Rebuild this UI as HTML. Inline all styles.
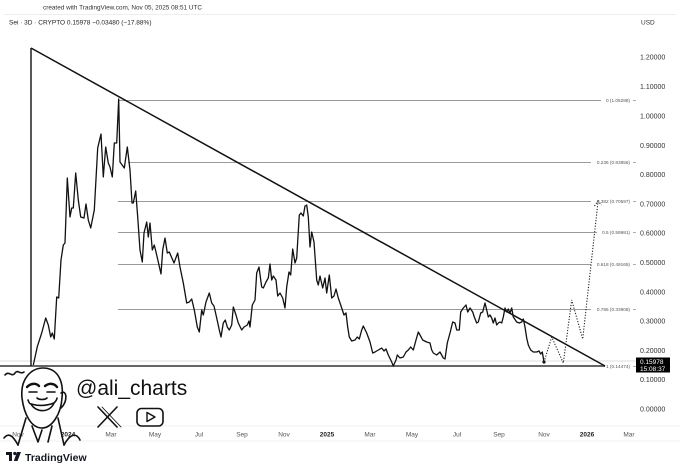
<!DOCTYPE html>
<html><head><meta charset="utf-8">
<style>
html,body{margin:0;padding:0;background:#fff;}
svg{display:block;}
text{font-family:"Liberation Sans",sans-serif;}
</style></head>
<body>
<svg width="680" height="472" viewBox="0 0 680 472" xmlns="http://www.w3.org/2000/svg">
<rect width="680" height="472" fill="#fff"/>
<!-- header -->
<text x="43" y="9.5" font-size="6.4" fill="#333">created with TradingView.com, Nov 05, 2025 08:51 UTC</text>
<line x1="4" y1="14.5" x2="676" y2="14.5" stroke="#eee" stroke-width="1"/>
<text x="9" y="24.5" font-size="6.5" fill="#222">Sei · 3D · CRYPTO  0.15978  −0.03480 (−17.88%)</text>
<text x="641" y="24.5" font-size="6.5" fill="#333">USD</text>

<!-- time axis band lines -->
<line x1="0" y1="426" x2="680" y2="426" stroke="#f0f0f0" stroke-width="1"/>
<line x1="0" y1="441" x2="680" y2="441" stroke="#f0f0f0" stroke-width="1"/>

<!-- current price line -->
<line x1="0" y1="361" x2="636" y2="361" stroke="#ddd" stroke-width="1"/>

<!-- fib levels -->
<g stroke="#9a9a9a" stroke-width="1">
<line x1="118" y1="100.5" x2="601" y2="100.5"/>
<line x1="128" y1="162.5" x2="591" y2="162.5"/>
<line x1="118" y1="201.5" x2="591" y2="201.5"/>
<line x1="118" y1="232.5" x2="597" y2="232.5"/>
<line x1="118" y1="264.5" x2="591" y2="264.5"/>
<line x1="118" y1="309.5" x2="591" y2="309.5"/>
</g>
<g font-size="4.7" fill="#555" text-anchor="end">
<text x="630" y="102.2">0 (1.05288)</text>
<text x="630" y="164.2">0.236 (0.83856)</text>
<text x="630" y="203.2">0.382 (0.70597)</text>
<text x="630" y="234.2">0.5 (0.59981)</text>
<text x="630" y="266.2">0.618 (0.49165)</text>
<text x="630" y="311.2">0.786 (0.33908)</text>
<text x="630" y="368.2">1 (0.14474)</text>
</g>
<g stroke="#999" stroke-width="0.8">
<line x1="633" y1="100.5" x2="636" y2="100.5"/>
<line x1="633" y1="162.5" x2="636" y2="162.5"/>
<line x1="633" y1="201.5" x2="636" y2="201.5"/>
<line x1="633" y1="232.5" x2="636" y2="232.5"/>
<line x1="633" y1="264.5" x2="636" y2="264.5"/>
<line x1="633" y1="309.5" x2="636" y2="309.5"/>
<line x1="633" y1="366.5" x2="636" y2="366.5"/>
</g>

<!-- triangle -->
<line x1="0" y1="366" x2="605" y2="366" stroke="#666" stroke-width="2"/>
<line x1="31" y1="48" x2="31" y2="366" stroke="#111" stroke-width="1.4"/>
<line x1="31" y1="48" x2="605" y2="366" stroke="#111" stroke-width="1.5"/>

<!-- price series -->
<polyline fill="none" stroke="#111" stroke-width="1.3" stroke-linejoin="round" points="33.3,365 37.3,346.7 41.7,333 45.7,318 48.3,325 50.7,337 52.3,333 54.3,339 56.7,297 58.7,298 61,260 63.3,245 65,243 67.3,178 70,217 71.7,208 73.3,208 75.7,173 78.3,200 80.7,217 84,218 86,204 88.3,220 90.7,228 94.3,210 97.7,148 101,134 103.3,177 105.7,147 108.3,163 110,167 112.3,177 114.3,143 116.7,143 118.7,99 120,162 124.3,168 127.3,147 130,170 132,203 133.3,203 135.7,191 137.7,217 140,250 142.3,262 144,233 146.7,222 148.3,237 150,223 152.3,250 154.3,245 156.7,255 161,274 162.7,250 165,238 167.3,253 169.3,252 174,263 177.7,253 180,267 183.3,283 186.7,303 189.3,302 191.7,299 194.3,310 197.3,327 199.3,332 201.7,310 203.3,315 206,302 209.3,293 211.7,303 214,306 216.7,318 219.3,330 221,337 223.3,323 225.3,320 227.3,327 229.3,330 231.7,325 233.3,307 236,315 238.3,323 241.7,330 244,327 247.3,325 249,321 250,327 252.3,305 255,300 256.7,273 259,267 261.7,287 263.3,288 266,282 268.3,278 270,264 271.7,280 273.3,276 276,280 277.7,296 280,293 282.7,298 285,308 286.7,287 289,272 290.7,275 292.7,249 295,263 296.7,258 299.3,215 301,213 303.3,216 305,206 306.7,205 308.3,217 310,247 311.7,232 314,242 316.7,280 318.3,285 320,276 322.7,288 325,278 326.7,293 329.3,275 331.7,298 334,296 336,289 338.3,298 340.7,305 344,315 346,313 347.7,327 349.3,337 351.7,341 355,340 357.3,337 359.3,339 361.7,330 363.3,326 366.7,333 370,342 372.7,353 375,352 378.3,350 381.7,348 384,351 386,349 388.3,355 391.7,362 393.3,366 396,360 397.3,355 400,358 403.3,357 406,352 408.3,350 410.7,347 413.3,350 416,340 418.3,332 420,335 422.7,340 426.7,342 430,343 431.7,350 433.3,353 436.7,355 440,352 443.3,358 445,359 447.3,343 450,333 452.7,322 455,323 456.7,330 459.3,330 460.7,312 463.3,308 466,305 467.7,312 470,308 472.7,312 474.3,317 476.7,323 478.3,322 480.7,313 482.7,312 485,303 486.7,310 488.3,317 490,315 491.7,318 493.3,323 495,318 496.7,325 498.3,323 500,322 501.7,323 503.3,317 505,308 506.7,312 508.3,309 510,313 511.7,308 513.3,317 516.7,322 519.3,323 521.7,322 523.3,319 525,327 526.7,338 528.3,345 530.7,350 533.3,352 536.7,352 539,351 540.7,354 542.3,352 544,362"/>
<circle cx="544" cy="362" r="1.6" fill="#111"/>

<!-- projection dotted -->
<polyline fill="none" stroke="#222" stroke-width="1.1" stroke-dasharray="1.2,1.6" points="544,362 551.7,337 563.3,363 571.7,300 582.7,339 598,202"/>
<polyline fill="none" stroke="#222" stroke-width="1.1" stroke-dasharray="1.2,1.6" points="594.5,206 598,201 601.5,205"/>

<!-- price axis -->
<g font-size="7" fill="#333">
<text x="640" y="59.5">1.20000</text>
<text x="640" y="89">1.10000</text>
<text x="640" y="118.5">1.00000</text>
<text x="640" y="147.8">0.90000</text>
<text x="640" y="177">0.80000</text>
<text x="640" y="206.5">0.70000</text>
<text x="640" y="235.5">0.60000</text>
<text x="640" y="265">0.50000</text>
<text x="640" y="294.3">0.40000</text>
<text x="640" y="323.5">0.30000</text>
<text x="640" y="352.8">0.20000</text>
<text x="640" y="382.2">0.10000</text>
<text x="640" y="411.5">0.00000</text>
</g>
<rect x="636" y="357.5" width="34" height="15" fill="#000"/>
<text x="640" y="364.2" font-size="6.5" fill="#fff">0.15978</text>
<text x="640" y="371.2" font-size="6.5" fill="#fff">15:08:37</text>

<!-- time axis -->
<g font-size="6.5" fill="#555" text-anchor="middle">
<text x="18" y="436.5">Nov</text>
<text x="111" y="436.5">Mar</text>
<text x="155" y="436.5">May</text>
<text x="199" y="436.5">Jul</text>
<text x="242" y="436.5">Sep</text>
<text x="284" y="436.5">Nov</text>
<text x="370" y="436.5">Mar</text>
<text x="412" y="436.5">May</text>
<text x="457" y="436.5">Jul</text>
<text x="499" y="436.5">Sep</text>
<text x="544" y="436.5">Nov</text>
<text x="629" y="436.5">Mar</text>
</g>
<g font-size="6.5" fill="#222" font-weight="bold" text-anchor="middle">
<text x="68" y="436.5">2024</text>
<text x="327" y="436.5">2025</text>
<text x="587" y="436.5">2026</text>
</g>

<!-- avatar -->
<g fill="none" stroke="#111" stroke-width="1.6" stroke-linecap="round" stroke-linejoin="round">
<path d="M5,375 C9,370 12,378 15,373 C18,369 20,375 24,372"/>
<path d="M22,398 C20,378 32,368 43,368 C57,368 64,380 62,398 C61,414 52,428 42,428 C31,428 24,414 22,398 Z" fill="#fff"/>
<path d="M61,393 C67,389 68,402 61,408"/>
<path d="M27,387 C31,383 36,383 39,386" stroke-width="2.4"/>
<path d="M45,386 C49,383 54,383 57,387" stroke-width="2.4"/>
<path d="M29,392 L37,392 M47,392 L55,392"/>
<path d="M37,398 C39,400 45,400 47,398"/>
<path d="M31,404 C36,413 50,413 54,403 C46,406 38,406 31,404 Z" fill="#fff"/>
<path d="M28,400 C29,403 30,404 31,404 M54,403 C56,401 57,399 57,398"/>
<path d="M26,418 L18,445 M58,418 L64,445"/>
<path d="M18,445 C12,434 8,433 4,438 M64,445 C70,434 76,432 80,440"/>
<path d="M32,426 L38,442 L42,430 M52,426 L48,442"/>
</g>

<!-- handle & icons -->
<text x="76" y="395" font-size="21" fill="#111">@ali_charts</text>
<g stroke="#111" stroke-width="1.6" fill="none" stroke-linecap="round">
<line x1="98" y1="407" x2="117" y2="427"/>
<line x1="117" y1="407" x2="98" y2="427"/>
<line x1="102" y1="407" x2="121" y2="427" stroke-width="0.9"/>
<rect x="137" y="408.5" width="26" height="17.5" rx="4.5"/>
<path d="M147,412.5 L155,417 L147,421.5 Z" stroke-width="1.4" stroke-linejoin="round"/>
</g>

<!-- TradingView logo -->
<g fill="#131722">
<rect x="6" y="452" width="6" height="3"/>
<rect x="9" y="452" width="3" height="9"/>
<circle cx="14.8" cy="453.5" r="1.6"/>
<path d="M17,452 L21,452 L17.5,461 L13.8,461 Z"/>
</g>
<text x="25" y="461" font-size="10.5" font-weight="bold" fill="#131722">TradingView</text>
</svg>
</body></html>
